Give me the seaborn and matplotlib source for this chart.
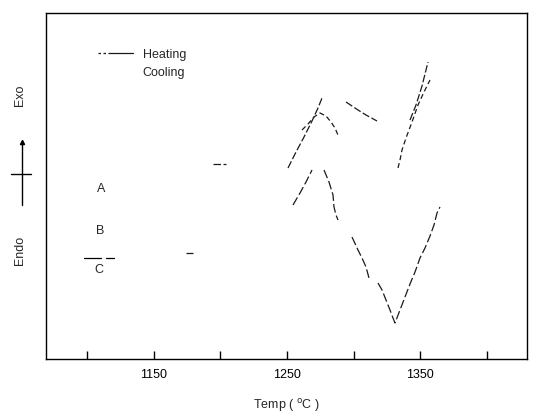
import numpy as np
import pandas as pd
import matplotlib
matplotlib.use("Agg")
import matplotlib.pyplot as plt
from matplotlib.lines import Line2D
import seaborn as sns

# ---- data (temperature in degC, DTA signal in arbitrary units) ----
# upper trace, heating
heat_T = [1194.5, 1204.25,
          1250.75, 1256.75, 1262.75, 1268.75, 1273.25, 1276.25,
          1294.25, 1303.25, 1309.25, 1317.5,
          1342.25, 1346.75, 1351.25, 1355.75]
heat_S = [195, 195,
          191, 207, 222, 238, 251, 261,
          257, 249, 244, 238,
          239, 254, 273, 297]
heat_seg = [0, 0, 1, 1, 1, 1, 1, 1, 2, 2, 2, 2, 3, 3, 3, 3]

# upper trace, cooling
cool_T = [1261.25, 1265.75, 1270.25, 1274.75, 1279.25, 1283.0, 1286.0, 1288.25,
          1333.25, 1334.75, 1336.25, 1339.25, 1343.75, 1348.25, 1352.75, 1357.25]
cool_S = [229, 235, 242, 246, 243, 237, 231, 224,
          191, 199, 209, 221, 237, 254, 267, 279]
cool_seg = [0] * 8 + [1] * 8

# lower trace
low_T = [1174.25, 1179.5,
         1254.5, 1259.75, 1264.25, 1268.75,
         1277.75, 1281.5, 1284.5, 1285.25, 1286.75, 1288.25,
         1298.75, 1303.25, 1306.25, 1309.25, 1311.5,
         1318.25, 1321.25, 1324.25, 1327.25, 1329.5, 1331.0,
         1334.75, 1338.5, 1342.25, 1346.0, 1349.75, 1353.5, 1357.25,
         1360.25, 1362.5, 1364.75]
low_S = [106, 106,
         154, 166, 177, 189,
         189, 177, 164, 152, 144, 139,
         122, 109, 101, 92, 81,
         76, 69, 59, 49, 41, 36,
         49, 62, 75, 87, 101, 111, 123,
         134, 146, 152]
low_seg = [0] * 2 + [1] * 4 + [2] * 6 + [3] * 5 + [4] * 16

xticks_major = [1150, 1250, 1350]
xticks_minor = [1100, 1200, 1300, 1400]
curve_labels = ["A", "B", "C"]

# ---- figure ----
sns.set_style("ticks")
plt.rcParams["font.family"] = ["Liberation Sans", "DejaVu Sans"]

W, H = 536, 415
fig = plt.figure(figsize=(W / 100, H / 100), dpi=100)
L, R, T, B = 46, 527, 13, 359
ax = fig.add_axes([L / W, 1 - B / H, (R - L) / W, (B - T) / H])

col = "#1a1a1a"
df_h = pd.DataFrame({"T": heat_T, "S": heat_S, "seg": heat_seg})
df_c = pd.DataFrame({"T": cool_T, "S": cool_S, "seg": cool_seg})
df_l = pd.DataFrame({"T": low_T, "S": low_S, "seg": low_seg})

sns.lineplot(data=df_h, x="T", y="S", units="seg", estimator=None, sort=False,
             ax=ax, color=col, lw=0.9, linestyle=(0, (6, 2)))
sns.lineplot(data=df_c, x="T", y="S", units="seg", estimator=None, sort=False,
             ax=ax, color=col, lw=0.9, linestyle=(0, (4, 2.5)))
sns.lineplot(data=df_l, x="T", y="S", units="seg", estimator=None, sort=False,
             ax=ax, color=col, lw=0.9, linestyle=(0, (7, 2.5)))

x0 = 1100 + (L - 87) * 0.75
x1 = 1100 + (R - 87) * 0.75
ax.set_xlim(x0, x1)
ax.set_ylim(0, B - T)
ax.set_xticks(xticks_major)
ax.set_xticklabels([str(v) for v in xticks_major])
ax.set_xticks(xticks_minor, minor=True)
ax.set_yticks([])
ax.tick_params(axis="x", which="both", direction="in", length=6, width=1.0,
               colors="black", labelsize=9, pad=7)
for s in ax.spines.values():
    s.set_visible(True)
    s.set_linewidth(1.0)
    s.set_color("black")
ax.set_xlabel(r"Temp ( $^{\mathrm{o}}$C )", fontsize=9, labelpad=12)
ax.set_ylabel("")

def fx(px):
    return px / W

def fy(py):
    return 1 - py / H

# legend (hand drawn as in original)
fig.add_artist(Line2D([fx(98), fx(110)], [fy(53), fy(53)], color=col, lw=0.9,
                      linestyle=(0, (2, 2))))
fig.add_artist(Line2D([fx(110), fx(133)], [fy(53), fy(53)], color=col, lw=0.9))
fig.text(fx(143), fy(55), "Heating", fontsize=9, va="center", ha="left")
fig.text(fx(142), fy(73), "Cooling", fontsize=9, va="center", ha="left")

# Exo / Endo indicator
fig.text(fx(20), fy(95), "Exo", rotation=90, fontsize=9, ha="center", va="center")
fig.text(fx(20), fy(250), "Endo", rotation=90, fontsize=9, ha="center", va="center")
fig.add_artist(Line2D([fx(22), fx(22)], [fy(205), fy(144)], color="black", lw=1.0))
fig.add_artist(Line2D([fx(22)], [fy(142)], marker="^", markersize=3, color="black"))
fig.add_artist(Line2D([fx(11), fx(31)], [fy(174), fy(174)], color="black", lw=1.0))

# curve labels
for lab, (px, py) in zip(curve_labels, [(101, 189), (100, 231), (99, 270)]):
    fig.text(fx(px), fy(py), lab, fontsize=9, ha="center", va="center")
fig.add_artist(Line2D([fx(84), fx(101)], [fy(258), fy(258)], color="black", lw=0.9))
fig.add_artist(Line2D([fx(106), fx(114)], [fy(258), fy(258)], color="black", lw=0.9))

fig.savefig("out.png", dpi=100)
